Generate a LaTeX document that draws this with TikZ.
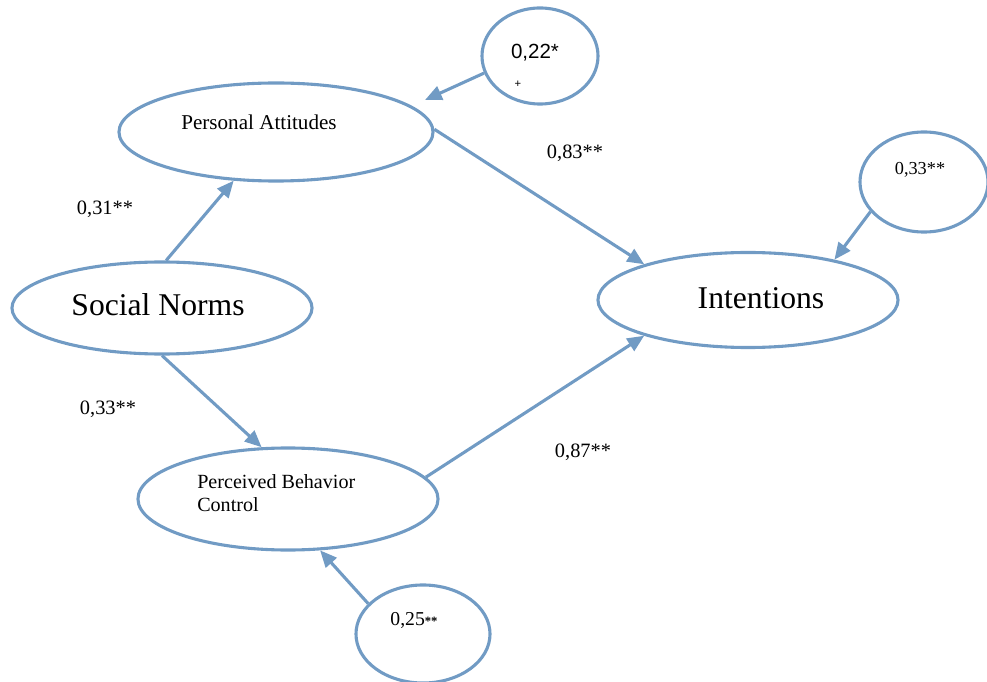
\documentclass[tikz,border=0pt]{standalone}
\usepackage{fontspec}
\setmainfont{Liberation Serif}
\newfontfamily\arialfont{Liberation Sans}
\usepackage{tikz}
\usetikzlibrary{positioning, arrows.meta, shapes.geometric}
\definecolor{pathblue}{RGB}{113,155,196}

\begin{document}
\begin{tikzpicture}[
    x=0.025cm, y=-0.025cm,
    latent/.style={ellipse, draw=pathblue, line width=2.2pt, inner sep=0pt},
    effect/.style={draw=pathblue, line width=2.2pt, -{Triangle[length=0.42cm, width=0.36cm]}},
    coef/.style={font=\fontsize{14.5}{17}\selectfont, inner sep=0pt}
]
\useasboundingbox (0,0) rectangle (987,682);

% constructs
\node[latent, minimum width=7.85cm, minimum height=2.45cm](pa) at (276,132){};
\node[latent, minimum width=7.5cm, minimum height=2.3cm](sn) at (162,308){};
\node[latent, minimum width=7.5cm, minimum height=2.55cm](pbc) at (288,499){};
\node[latent, minimum width=7.5cm, minimum height=2.375cm](int) at (748,300){};
\node[font=\fontsize{15}{17}\selectfont](paText) at (259,122){Personal Attitudes};
\node[font=\fontsize{22.5}{26}\selectfont](snText) at (158,305){Social Norms};
\node[font=\fontsize{14.3}{16.4}\selectfont, align=left, anchor=west, inner sep=0pt](pbcText) at (197,493){Perceived Behavior\\Control};
\node[font=\fontsize{22.5}{26}\selectfont](intText) at (761,298){Intentions};

% error terms
\node[latent, minimum width=2.9cm, minimum height=2.4cm](e22) at (540,56){};
\node[latent, minimum width=3.2cm, minimum height=2.5cm](e33) at (924,182){};
\node[latent, minimum width=3.35cm, minimum height=2.45cm](e25) at (423,634){};
\node[font=\arialfont\fontsize{14.6}{17}\selectfont, inner sep=0pt](e22Text) at (535,53){0,22*};
\node[font=\arialfont\fontsize{8}{8}\selectfont, inner sep=0pt](e22Mark) at (518,84){+};
\node[font=\fontsize{13}{15}\selectfont, inner sep=0pt](e33Text) at (920,170){0,33**};
\node[font=\fontsize{14}{16}\selectfont, inner sep=0pt](e25Text) at (414,620){0,25{\fontsize{9}{9}\selectfont\textbf{**}}};

% path coefficients
\node[coef](c31) at (105,209){0,31**};
\node[coef](c33) at (108,409){0,33**};
\node[coef](c83) at (575,153){0,83**};
\node[coef](c87) at (583,452){0,87**};

% paths
\coordinate (paIn) at (425,100);
\draw[effect] (sn.85) -- (pa.229);
\draw[effect] (sn.270) -- (pbc.117);
\draw[effect] (pa.1) -- (int.161);
\draw[effect] (pbc.9) -- (int.199);
\draw[effect] (e22.197) -- (paIn);
\draw[effect] (e33.209) -- (int.25);
\draw[effect] (e25.151) -- (pbc.302);
\end{tikzpicture}
\end{document}
